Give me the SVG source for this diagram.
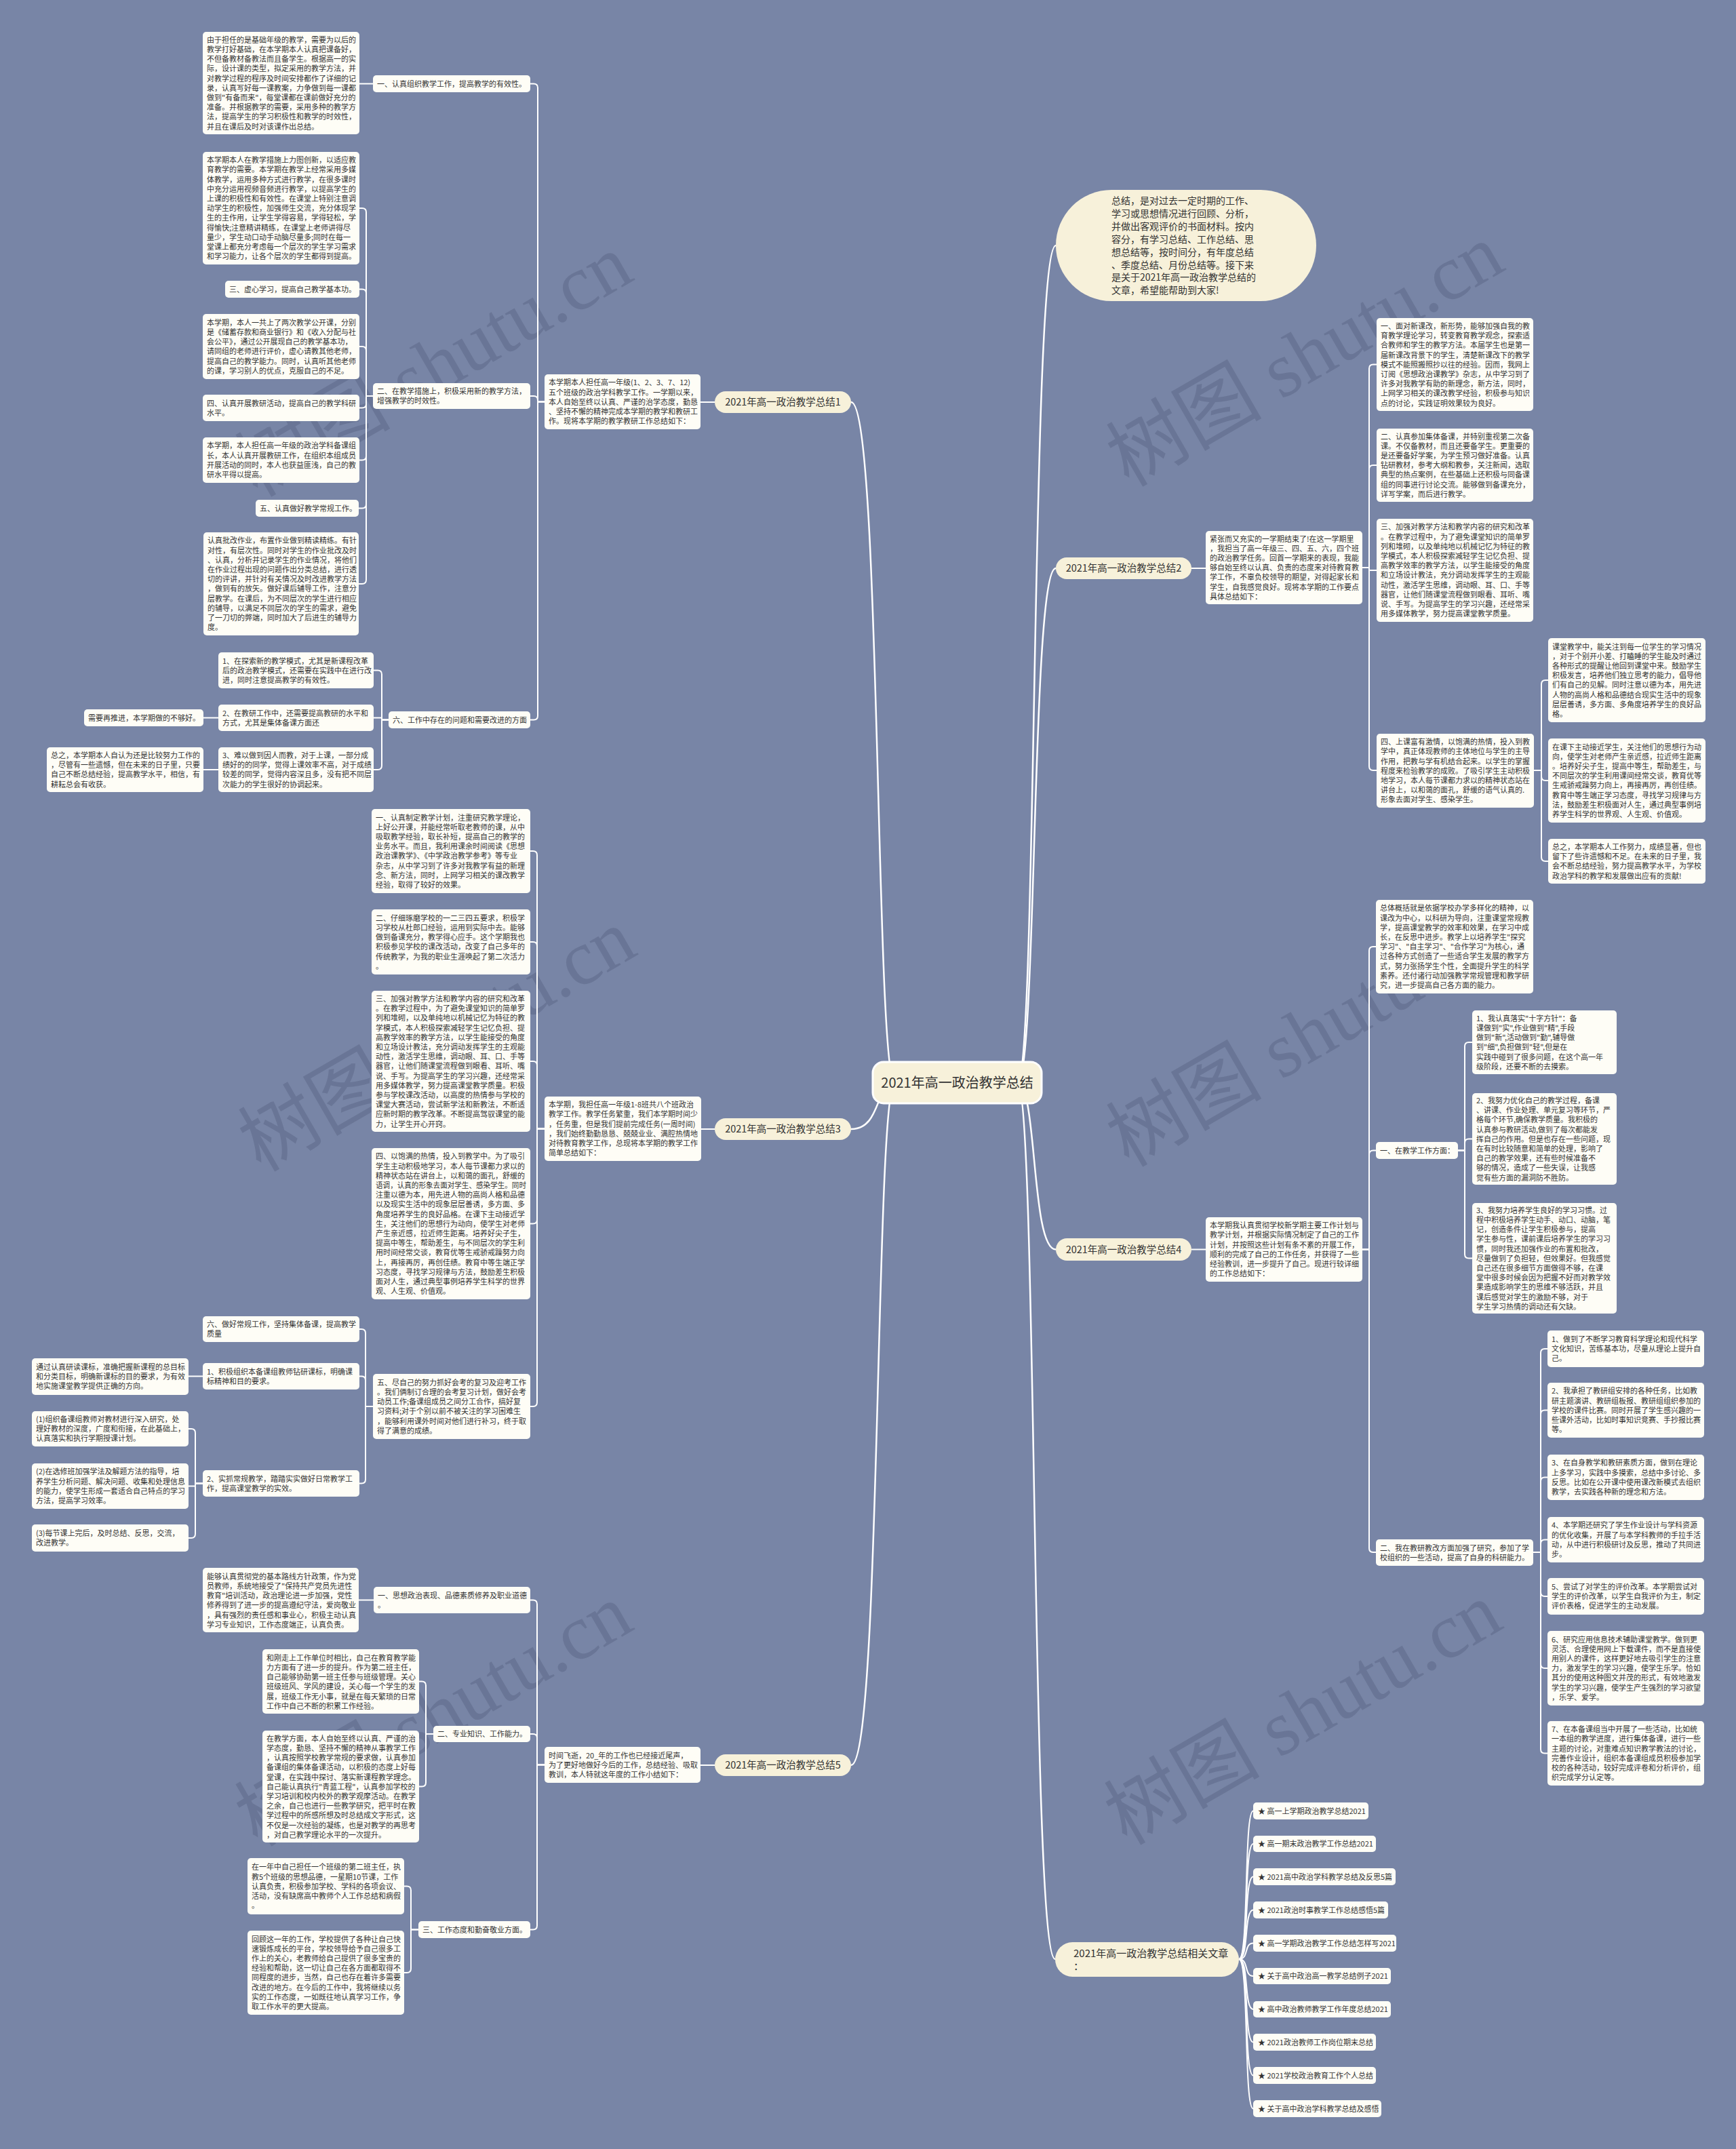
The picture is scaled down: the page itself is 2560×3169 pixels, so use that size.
<svg xmlns="http://www.w3.org/2000/svg" width="2560" height="3169" viewBox="0 0 2560 3169">
<style>
.t{font-family:'Noto Sans CJK SC','Noto Sans',sans-serif;font-size:11px;fill:#333}
.box{fill:#fefdf6}
.pill{fill:#f7f1da}
.pt{font-family:'Noto Sans CJK SC','Noto Sans',sans-serif;font-size:14.5px;fill:#333;text-anchor:middle}
.c{fill:none;stroke:#fff;stroke-width:2}
.cm{fill:none;stroke:#fff;stroke-width:2.5}
.wm{font-family:'Liberation Serif','Noto Sans CJK SC',serif;font-size:115px;fill:#4a5470;fill-opacity:0.3;text-anchor:middle}
</style>
<rect width="2560" height="3169" fill="#7885a6"/>
<g id="watermarks">
<text class="wm" transform="translate(640,540) rotate(-30)" y="38">树图 shutu.cn</text>
<text class="wm" transform="translate(645,1535) rotate(-30)" y="38">树图 shutu.cn</text>
<text class="wm" transform="translate(640,2530) rotate(-30)" y="38">树图 shutu.cn</text>
<text class="wm" transform="translate(1925,525) rotate(-30)" y="38">树图 shutu.cn</text>
<text class="wm" transform="translate(1925,1528) rotate(-30)" y="38">树图 shutu.cn</text>
<text class="wm" transform="translate(1922,2528) rotate(-30)" y="38">树图 shutu.cn</text>
</g>
<g id="connectors">
<path class="cm" d="M1320 1597 C1290 1597 1300 593 1255 593"/>
<path class="cm" d="M1320 1597 C1290 1597 1300 1665 1255 1665"/>
<path class="cm" d="M1320 1597 C1290 1597 1300 2603 1255 2603"/>
<path class="cm" d="M1500 1597 C1530 1597 1520 362 1557 362"/>
<path class="cm" d="M1500 1597 C1530 1597 1520 838 1557 838"/>
<path class="cm" d="M1500 1597 C1530 1597 1520 1842.5 1557 1842.5"/>
<path class="cm" d="M1500 1597 C1530 1597 1520 2889 1556 2889"/>
<path class="c" d="M1054 593 H1033"/>
<path class="c" d="M803 592.5 H793 V129.5 Q793 123.5 787 123.5 H782"/>
<path class="c" d="M803 592.5 H793 V590 Q793 584 787 584 H782"/>
<path class="c" d="M803 592.5 H793 V1055.5 Q793 1061.5 787 1061.5 H782"/>
<path class="c" d="M550 123.5 H530"/>
<path class="c" d="M550 584 H540 V313 Q540 307 534 307 H530"/>
<path class="c" d="M550 584 H540 V432.5 Q540 426.5 534 426.5 H530"/>
<path class="c" d="M550 584 H540 V517 Q540 511 534 511 H530"/>
<path class="c" d="M550 584 H540 V595.5 Q540 601.5 534 601.5 H530"/>
<path class="c" d="M550 584 H540 V672.5 Q540 678.5 534 678.5 H530"/>
<path class="c" d="M550 584 H540 V743.5 Q540 749.5 534 749.5 H529"/>
<path class="c" d="M550 584 H540 V855 Q540 861 534 861 H529"/>
<path class="c" d="M573 1061.5 H563 V994.5 Q563 988.5 557 988.5 H551"/>
<path class="c" d="M573 1061.5 H563 V1058.5 H551"/>
<path class="c" d="M573 1061.5 H563 V1129 Q563 1135 557 1135 H551"/>
<path class="c" d="M322 1058.5 H300"/>
<path class="c" d="M322 1135 H300"/>
<path class="c" d="M1054 1665 H1034"/>
<path class="c" d="M803 1664.5 H792 V1261 Q792 1255 786 1255 H782"/>
<path class="c" d="M803 1664.5 H792 V1395 Q792 1389 786 1389 H782"/>
<path class="c" d="M803 1664.5 H792 V1571 Q792 1565 786 1565 H782"/>
<path class="c" d="M803 1664.5 H792 V1798.5 Q792 1804.5 786 1804.5 H782"/>
<path class="c" d="M803 1664.5 H792 V2068 Q792 2074 786 2074 H782"/>
<path class="c" d="M550 2074 H539 V1966 Q539 1960 533 1960 H530"/>
<path class="c" d="M550 2074 H539 V2035.5 Q539 2029.5 533 2029.5 H530"/>
<path class="c" d="M550 2074 H539 V2181.5 Q539 2187.5 533 2187.5 H530"/>
<path class="c" d="M299 2029.5 H278"/>
<path class="c" d="M299 2187.5 H288 V2113 Q288 2107 282 2107 H278"/>
<path class="c" d="M299 2187.5 H288 V2191.5 H278"/>
<path class="c" d="M299 2187.5 H288 V2262 Q288 2268 282 2268 H278"/>
<path class="c" d="M1054 2603 H1033"/>
<path class="c" d="M803 2602.5 H792 V2365.5 Q792 2359.5 786 2359.5 H782"/>
<path class="c" d="M803 2602.5 H792 V2563 Q792 2557 786 2557 H782"/>
<path class="c" d="M803 2602.5 H792 V2839.5 Q792 2845.5 786 2845.5 H782"/>
<path class="c" d="M551 2359.5 H529"/>
<path class="c" d="M639 2557 H628 V2485.5 Q628 2479.5 622 2479.5 H618"/>
<path class="c" d="M639 2557 H628 V2628.5 Q628 2634.5 622 2634.5 H618"/>
<path class="c" d="M617 2845.5 H606 V2787.5 Q606 2781.5 600 2781.5 H596"/>
<path class="c" d="M617 2845.5 H606 V2903 Q606 2909 600 2909 H596"/>
<path class="c" d="M1757 838 H1778"/>
<path class="c" d="M2009 837 H2019 V543.5 Q2019 537.5 2025 537.5 H2030"/>
<path class="c" d="M2009 837 H2019 V692 Q2019 686 2025 686 H2030"/>
<path class="c" d="M2009 837 H2019 V841 H2030"/>
<path class="c" d="M2009 837 H2019 V1130 Q2019 1136 2025 1136 H2030"/>
<path class="c" d="M2262 1136 H2273 V1009 Q2273 1003 2279 1003 H2283"/>
<path class="c" d="M2262 1136 H2273 V1145 Q2273 1151 2279 1151 H2283"/>
<path class="c" d="M2262 1136 H2273 V1264 Q2273 1270 2279 1270 H2283"/>
<path class="c" d="M1757 1842.5 H1778"/>
<path class="c" d="M2009 1842.5 H2019 V1402 Q2019 1396 2025 1396 H2029"/>
<path class="c" d="M2009 1842.5 H2019 V1702.5 Q2019 1696.5 2025 1696.5 H2029"/>
<path class="c" d="M2009 1842.5 H2019 V2283 Q2019 2289 2025 2289 H2029"/>
<path class="c" d="M2150 1696.5 H2160 V1543 Q2160 1537 2166 1537 H2171"/>
<path class="c" d="M2150 1696.5 H2160 V1685.5 Q2160 1679.5 2166 1679.5 H2171"/>
<path class="c" d="M2150 1696.5 H2160 V1849.5 Q2160 1855.5 2166 1855.5 H2171"/>
<path class="c" d="M2261 2289 H2272 V1995 Q2272 1989 2278 1989 H2282"/>
<path class="c" d="M2261 2289 H2272 V2085.5 Q2272 2079.5 2278 2079.5 H2282"/>
<path class="c" d="M2261 2289 H2272 V2184.5 Q2272 2178.5 2278 2178.5 H2282"/>
<path class="c" d="M2261 2289 H2272 V2276.5 Q2272 2270.5 2278 2270.5 H2282"/>
<path class="c" d="M2261 2289 H2272 V2348 Q2272 2354 2278 2354 H2282"/>
<path class="c" d="M2261 2289 H2272 V2454 Q2272 2460 2278 2460 H2282"/>
<path class="c" d="M2261 2289 H2272 V2579.5 Q2272 2585.5 2278 2585.5 H2282"/>
<path class="c" d="M1827 2889 C1842 2889 1834 2670.5 1848 2670.5"/>
<path class="c" d="M1827 2889 C1842 2889 1834 2719 1848 2719"/>
<path class="c" d="M1827 2889 C1842 2889 1834 2767.5 1848 2767.5"/>
<path class="c" d="M1827 2889 C1842 2889 1834 2816.5 1848 2816.5"/>
<path class="c" d="M1827 2889 C1842 2889 1834 2865.5 1848 2865.5"/>
<path class="c" d="M1827 2889 C1842 2889 1834 2914 1848 2914"/>
<path class="c" d="M1827 2889 C1842 2889 1834 2963 1848 2963"/>
<path class="c" d="M1827 2889 C1842 2889 1834 3011.5 1848 3011.5"/>
<path class="c" d="M1827 2889 C1842 2889 1834 3060.5 1848 3060.5"/>
<path class="c" d="M1827 2889 C1842 2889 1834 3109.5 1848 3109.5"/>
</g>

<g id="root"><rect x="1287" y="1566" width="249" height="61" rx="16" fill="#f7f1da" stroke="#fff" stroke-width="3"/><text x="1411.5" y="1604" style="font-family:'Noto Sans CJK SC',sans-serif;font-size:20px;fill:#333;text-anchor:middle">2021年高一政治教学总结</text></g>

<g id="intro"><rect class="pill" x="1557" y="280" width="384" height="164" rx="82"/><text x="1639" y="301" style="font-family:'Noto Sans CJK SC',sans-serif;font-size:14px;fill:#333"><tspan x="1639">总结，是对过去一定时期的工作、</tspan><tspan x="1639" dy="18.9">学习或思想情况进行回顾、分析，</tspan><tspan x="1639" dy="18.9">并做出客观评价的书面材料。按内</tspan><tspan x="1639" dy="18.9">容分，有学习总结、工作总结、思</tspan><tspan x="1639" dy="18.9">想总结等，按时间分，有年度总结</tspan><tspan x="1639" dy="18.9">、季度总结、月份总结等。接下来</tspan><tspan x="1639" dy="18.9">是关于2021年高一政治教学总结的</tspan><tspan x="1639" dy="18.9">文章，希望能帮助到大家!</tspan></text></g>

<!-- Branch 1 -->
<g id="b1"><rect class="pill" x="1054" y="577" width="201" height="32" rx="16"/><text class="pt" x="1154.5" y="598">2021年高一政治教学总结1</text></g>
<g id="b1-text"><rect class="box" x="803" y="552" width="230" height="81" rx="5"/><text class="t" x="809" y="568.3"><tspan x="809">本学期本人担任高一年级(1、2、3、7、12)</tspan><tspan x="809" dy="14.2">五个班级的政治学科教学工作。一学期以来，</tspan><tspan x="809" dy="14.2">本人自始至终以认真、严谨的治学态度，勤恳</tspan><tspan x="809" dy="14.2">、坚持不懈的精神完成本学期的教学和教研工</tspan><tspan x="809" dy="14.2">作。现将本学期的教学教研工作总结如下：</tspan></text></g>
<g id="b1-n1"><rect class="box" x="550" y="111" width="232" height="25" rx="5"/><text class="t" x="556" y="127.7">一、认真组织教学工作，提高教学的有效性。</text></g>
<g id="b1-n2"><rect class="box" x="550" y="565" width="232" height="38" rx="5"/><text class="t" x="556" y="581.1"><tspan x="556">二、在教学措施上，积极采用新的教学方法，</tspan><tspan x="556" dy="14.2">增强教学的时效性。</tspan></text></g>
<g id="b1-n6"><rect class="box" x="573" y="1049" width="209" height="25" rx="5"/><text class="t" x="579" y="1065.7">六、工作中存在的问题和需要改进的方面</text></g>
<g id="b1-a1"><rect class="box" x="299" y="47" width="231" height="151" rx="5"/><text class="t" x="305" y="62.8"><tspan x="305">由于担任的是基础年级的教学，需要为以后的</tspan><tspan x="305" dy="14.2">教学打好基础，在本学期本人认真把课备好，</tspan><tspan x="305" dy="14.2">不但备教材备教法而且备学生。根据高一的实</tspan><tspan x="305" dy="14.2">际，设计课的类型，拟定采用的教学方法，并</tspan><tspan x="305" dy="14.2">对教学过程的程序及时间安排都作了详细的记</tspan><tspan x="305" dy="14.2">录，认真写好每一课教案，力争做到每一课都</tspan><tspan x="305" dy="14.2">做到"有备而来"，每堂课都在课前做好充分的</tspan><tspan x="305" dy="14.2">准备。并根据教学的需要，采用多种的教学方</tspan><tspan x="305" dy="14.2">法，提高学生的学习积极性和教学的时效性，</tspan><tspan x="305" dy="14.2">并且在课后及时对该课作出总结。</tspan></text></g>
<g id="b1-a2"><rect class="box" x="299" y="224" width="231" height="166" rx="5"/><text class="t" x="305" y="240.2"><tspan x="305">本学期本人在教学措施上力图创新，以适应教</tspan><tspan x="305" dy="14.2">育教学的需要。本学期在教学上经常采用多媒</tspan><tspan x="305" dy="14.2">体教学，运用多种方式进行教学，在很多课时</tspan><tspan x="305" dy="14.2">中充分运用视频音频进行教学，以提高学生的</tspan><tspan x="305" dy="14.2">上课的积极性和有效性。在课堂上特别注意调</tspan><tspan x="305" dy="14.2">动学生的积极性，加强师生交流，充分体现学</tspan><tspan x="305" dy="14.2">生的主作用，让学生学得容易，学得轻松，学</tspan><tspan x="305" dy="14.2">得愉快;注意精讲精练，在课堂上老师讲得尽</tspan><tspan x="305" dy="14.2">量少，学生动口动手动脑尽量多;同时在每一</tspan><tspan x="305" dy="14.2">堂课上都充分考虑每一个层次的学生学习需求</tspan><tspan x="305" dy="14.2">和学习能力，让各个层次的学生都得到提高。</tspan></text></g>
<g id="b1-a3"><rect class="box" x="332" y="414" width="198" height="25" rx="5"/><text class="t" x="338" y="430.7">三、虚心学习，提高自己教学基本功。</text></g>
<g id="b1-a4"><rect class="box" x="299" y="463" width="231" height="96" rx="5"/><text class="t" x="305" y="479.7"><tspan x="305">本学期，本人一共上了两次教学公开课，分别</tspan><tspan x="305" dy="14.2">是《储蓄存款和商业银行》和《收入分配与社</tspan><tspan x="305" dy="14.2">会公平》，通过公开展现自己的教学基本功，</tspan><tspan x="305" dy="14.2">请同组的老师进行评价，虚心请教其他老师，</tspan><tspan x="305" dy="14.2">提高自己的教学能力。同时，认真听其他老师</tspan><tspan x="305" dy="14.2">的课，学习别人的优点，克服自己的不足。</tspan></text></g>
<g id="b1-a5"><rect class="box" x="299" y="582" width="231" height="39" rx="5"/><text class="t" x="305" y="598.6"><tspan x="305">四、认真开展教研活动，提高自己的教学科研</tspan><tspan x="305" dy="14.2">水平。</tspan></text></g>
<g id="b1-a6"><rect class="box" x="299" y="645" width="231" height="67" rx="5"/><text class="t" x="305" y="661.4"><tspan x="305">本学期，本人担任高一年级的政治学科备课组</tspan><tspan x="305" dy="14.2">长，本人认真开展教研工作，在组织本组成员</tspan><tspan x="305" dy="14.2">开展活动的同时，本人也获益匪浅，自己的教</tspan><tspan x="305" dy="14.2">研水平得以提高。</tspan></text></g>
<g id="b1-a7"><rect class="box" x="377" y="737" width="152" height="25" rx="5"/><text class="t" x="383" y="753.7">五、认真做好教学常规工作。</text></g>
<g id="b1-a8"><rect class="box" x="300" y="785" width="229" height="152" rx="5"/><text class="t" x="306" y="801.3"><tspan x="306">认真批改作业，布置作业做到精读精练。有针</tspan><tspan x="306" dy="14.2">对性，有层次性。同时对学生的作业批改及时</tspan><tspan x="306" dy="14.2">、认真，分析并记录学生的作业情况，将他们</tspan><tspan x="306" dy="14.2">在作业过程出现的问题作出分类总结，进行透</tspan><tspan x="306" dy="14.2">切的评讲，并针对有关情况及时改进教学方法</tspan><tspan x="306" dy="14.2">，做到有的放矢。做好课后辅导工作，注意分</tspan><tspan x="306" dy="14.2">层教学。在课后，为不同层次的学生进行相应</tspan><tspan x="306" dy="14.2">的辅导，以满足不同层次的学生的需求，避免</tspan><tspan x="306" dy="14.2">了一刀切的弊端，同时加大了后进生的辅导力</tspan><tspan x="306" dy="14.2">度。</tspan></text></g>
<g id="b1-a9"><rect class="box" x="322" y="962" width="229" height="53" rx="5"/><text class="t" x="328" y="978.5"><tspan x="328">1、在探索新的教学模式，尤其是新课程改革</tspan><tspan x="328" dy="14.2">后的政治教学模式，还需要在实践中在进行改</tspan><tspan x="328" dy="14.2">进，同时注意提高教学的有效性。</tspan></text></g>
<g id="b1-a10"><rect class="box" x="322" y="1039" width="229" height="39" rx="5"/><text class="t" x="328" y="1055.6"><tspan x="328">2、在教研工作中，还需要提高教研的水平和</tspan><tspan x="328" dy="14.2">方式，尤其是集体备课方面还</tspan></text></g>
<g id="b1-a11"><rect class="box" x="322" y="1102" width="229" height="66" rx="5"/><text class="t" x="328" y="1117.9"><tspan x="328">3、难以做到因人而教，对于上课，一部分成</tspan><tspan x="328" dy="14.2">绩好的的同学，觉得上课效率不高，对于成绩</tspan><tspan x="328" dy="14.2">较差的同学，觉得内容深且多，没有把不同层</tspan><tspan x="328" dy="14.2">次能力的学生很好的协调起来。</tspan></text></g>
<g id="b1-a12"><rect class="box" x="124" y="1046" width="176" height="25" rx="5"/><text class="t" x="130" y="1062.7">需要再推进，本学期做的不够好。</text></g>
<g id="b1-a13"><rect class="box" x="69" y="1102" width="231" height="66" rx="5"/><text class="t" x="75" y="1117.9"><tspan x="75">总之，本学期本人自认为还是比较努力工作的</tspan><tspan x="75" dy="14.2">，尽管有一些遗憾，但在未来的日子里，只要</tspan><tspan x="75" dy="14.2">自己不断总结经验，提高教学水平，相信，有</tspan><tspan x="75" dy="14.2">耕耘总会有收获。</tspan></text></g>

<!-- Branch 3 -->
<g id="b3"><rect class="pill" x="1054" y="1649" width="201" height="32" rx="16"/><text class="pt" x="1154.5" y="1670">2021年高一政治教学总结3</text></g>
<g id="b3-text"><rect class="box" x="803" y="1617" width="231" height="95" rx="5"/><text class="t" x="809" y="1633.2"><tspan x="809">本学期，我担任高一年级1-8班共八个班政治</tspan><tspan x="809" dy="14.2">教学工作。教学任务繁重，我们本学期时间少</tspan><tspan x="809" dy="14.2">，任务重，但是我们提前完成任务(一周时间)</tspan><tspan x="809" dy="14.2">，我们始终勤勤恳恳、兢兢业业、满腔热情地</tspan><tspan x="809" dy="14.2">对待教育教学工作，总现将本学期的教学工作</tspan><tspan x="809" dy="14.2">简单总结如下：</tspan></text></g>
<g id="b3-b1"><rect class="box" x="548" y="1193" width="234" height="124" rx="5"/><text class="t" x="554" y="1209.5"><tspan x="554">一、认真制定教学计划，注重研究教学理论，</tspan><tspan x="554" dy="14.2">上好公开课，并能经常听取老教师的课，从中</tspan><tspan x="554" dy="14.2">吸取教学经验，取长补短，提高自己的教学的</tspan><tspan x="554" dy="14.2">业务水平。而且，我利用课余时间阅读《思想</tspan><tspan x="554" dy="14.2">政治课教学》、《中学政治教学参考》等专业</tspan><tspan x="554" dy="14.2">杂志，从中学习到了许多对我教学有益的新理</tspan><tspan x="554" dy="14.2">念、新方法，同时，上网学习相关的课改教学</tspan><tspan x="554" dy="14.2">经验，取得了较好的效果。</tspan></text></g>
<g id="b3-b2"><rect class="box" x="548" y="1341" width="234" height="96" rx="5"/><text class="t" x="554" y="1357.7"><tspan x="554">二、仔细琢磨学校的一二三四五要求，积极学</tspan><tspan x="554" dy="14.2">习学校从杜郎口经验，运用到实际中去。能够</tspan><tspan x="554" dy="14.2">做到备课充分，教学得心应手。这个学期我也</tspan><tspan x="554" dy="14.2">积极参见学校的课改活动，改变了自己多年的</tspan><tspan x="554" dy="14.2">传统教学，为我的职业生涯唤起了第二次活力</tspan><tspan x="554" dy="14.2">。</tspan></text></g>
<g id="b3-b3"><rect class="box" x="548" y="1461" width="234" height="208" rx="5"/><text class="t" x="554" y="1476.9"><tspan x="554">三、加强对教学方法和教学内容的研究和改革</tspan><tspan x="554" dy="14.2">。在教学过程中，为了避免课堂知识的简单罗</tspan><tspan x="554" dy="14.2">列和堆砌，以及单纯地以机械记忆为特征的教</tspan><tspan x="554" dy="14.2">学模式，本人积极探索减轻学生记忆负担、提</tspan><tspan x="554" dy="14.2">高教学效率的教学方法，以学生能接受的角度</tspan><tspan x="554" dy="14.2">和立场设计教法，充分调动发挥学生的主观能</tspan><tspan x="554" dy="14.2">动性，激活学生思维，调动眼、耳、口、手等</tspan><tspan x="554" dy="14.2">器官，让他们随课堂流程做到眼看、耳听、嘴</tspan><tspan x="554" dy="14.2">说、手写。为提高学生的学习兴趣，还经常采</tspan><tspan x="554" dy="14.2">用多媒体教学，努力提高课堂教学质量。积极</tspan><tspan x="554" dy="14.2">参与学校课改活动，以高度的热情参与学校的</tspan><tspan x="554" dy="14.2">课堂大赛活动，尝试新学法和新教法，不断适</tspan><tspan x="554" dy="14.2">应新时期的教学改革。不断提高驾驭课堂的能</tspan><tspan x="554" dy="14.2">力，让学生开心开窍。</tspan></text></g>
<g id="b3-b4"><rect class="box" x="548" y="1693" width="234" height="223" rx="5"/><text class="t" x="554" y="1709.3"><tspan x="554">四、以饱满的热情，投入到教学中。为了吸引</tspan><tspan x="554" dy="14.2">学生主动积极地学习，本人每节课都力求以的</tspan><tspan x="554" dy="14.2">精神状态站在讲台上，以和蔼的面孔，舒缓的</tspan><tspan x="554" dy="14.2" textLength="222" lengthAdjust="spacingAndGlyphs">语调，认真的形象去面对学生、感染学生。同时</tspan><tspan x="554" dy="14.2">注重以德为本，用先进人物的高尚人格和品德</tspan><tspan x="554" dy="14.2">以及现实生活中的现象层层善诱，多方面、多</tspan><tspan x="554" dy="14.2">角度培养学生的良好品格。在课下主动接近学</tspan><tspan x="554" dy="14.2">生，关注他们的思想行为动向，使学生对老师</tspan><tspan x="554" dy="14.2">产生亲近感，拉近师生距离。培养好尖子生，</tspan><tspan x="554" dy="14.2">提高中等生，帮助差生，与不同层次的学生利</tspan><tspan x="554" dy="14.2">用时间经常交谈，教育优等生戒骄戒躁努力向</tspan><tspan x="554" dy="14.2">上，再接再厉，再创佳绩。教育中等生端正学</tspan><tspan x="554" dy="14.2">习态度，寻找学习规律与方法，鼓励差生积极</tspan><tspan x="554" dy="14.2">面对人生，通过典型事例培养学生科学的世界</tspan><tspan x="554" dy="14.2">观、人生观、价值观。</tspan></text></g>
<g id="b3-n5"><rect class="box" x="550" y="2026" width="232" height="96" rx="5"/><text class="t" x="556" y="2042.7"><tspan x="556">五、尽自己的努力抓好会考的复习及迎考工作</tspan><tspan x="556" dy="14.2">。我们俩制订合理的会考复习计划，做好会考</tspan><tspan x="556" dy="14.2">动员工作;备课组成员之间分工合作，搞好复</tspan><tspan x="556" dy="14.2">习资料;对于个别以前不被关注的学习困难生</tspan><tspan x="556" dy="14.2">，能够利用课外时间对他们进行补习，终于取</tspan><tspan x="556" dy="14.2">得了满意的成绩。</tspan></text></g>
<g id="b3-c6"><rect class="box" x="299" y="1941" width="231" height="38" rx="5"/><text class="t" x="305" y="1957.1"><tspan x="305">六、做好常规工作，坚持集体备课，提高教学</tspan><tspan x="305" dy="14.2">质量</tspan></text></g>
<g id="b3-c7"><rect class="box" x="299" y="2010" width="231" height="39" rx="5"/><text class="t" x="305" y="2026.6"><tspan x="305">1、积极组织本备课组教师钻研课标，明确课</tspan><tspan x="305" dy="14.2">标精神和目的要求。</tspan></text></g>
<g id="b3-c8"><rect class="box" x="299" y="2168" width="231" height="39" rx="5"/><text class="t" x="305" y="2184.6"><tspan x="305">2、实抓常规教学，踏踏实实做好日常教学工</tspan><tspan x="305" dy="14.2">作，提高课堂教学的实效。</tspan></text></g>
<g id="b3-c9"><rect class="box" x="47" y="2003" width="231" height="54" rx="5"/><text class="t" x="53" y="2020"><tspan x="53">通过认真研读课标，准确把握新课程的总目标</tspan><tspan x="53" dy="14.2">和分类目标，明确新课标的目的要求，为有效</tspan><tspan x="53" dy="14.2">地实施课堂教学提供正确的方向。</tspan></text></g>
<g id="b3-c10"><rect class="box" x="47" y="2081" width="231" height="52" rx="5"/><text class="t" x="53" y="2097"><tspan x="53">(1)组织备课组教师对教材进行深入研究，处</tspan><tspan x="53" dy="14.2">理好教材的深度，广度和衔接，在此基础上，</tspan><tspan x="53" dy="14.2">认真落实和执行学期授课计划。</tspan></text></g>
<g id="b3-c11"><rect class="box" x="47" y="2158" width="231" height="67" rx="5"/><text class="t" x="53" y="2174.4"><tspan x="53">(2)在选修班加强学法及解题方法的指导，培</tspan><tspan x="53" dy="14.2">养学生分析问题、解决问题、收集和处理信息</tspan><tspan x="53" dy="14.2">的能力，使学生形成一套适合自己特点的学习</tspan><tspan x="53" dy="14.2">方法，提高学习效率。</tspan></text></g>
<g id="b3-c12"><rect class="box" x="47" y="2248" width="231" height="40" rx="5"/><text class="t" x="53" y="2265.1"><tspan x="53">(3)每节课上完后，及时总结、反思，交流，</tspan><tspan x="53" dy="14.2">改进教学。</tspan></text></g>

<!-- Branch 5 -->
<g id="b5"><rect class="pill" x="1054" y="2587" width="201" height="32" rx="16"/><text class="pt" x="1154.5" y="2608">2021年高一政治教学总结5</text></g>
<g id="b5-text"><rect class="box" x="803" y="2576" width="230" height="53" rx="5"/><text class="t" x="809" y="2592.5"><tspan x="809">时间飞逝，20_年的工作也已经接近尾声，</tspan><tspan x="809" dy="14.2">为了更好地做好今后的工作，总结经验、吸取</tspan><tspan x="809" dy="14.2">教训，本人特就这年度的工作小结如下：</tspan></text></g>
<g id="b5-n1"><rect class="box" x="551" y="2340" width="231" height="39" rx="5"/><text class="t" x="557" y="2356.6"><tspan x="557">一、思想政治表现、品德素质修养及职业道德</tspan><tspan x="557" dy="14.2">。</tspan></text></g>
<g id="b5-n2"><rect class="box" x="639" y="2545" width="143" height="24" rx="5"/><text class="t" x="645" y="2561.2">二、专业知识、工作能力。</text></g>
<g id="b5-n3"><rect class="box" x="617" y="2833" width="165" height="25" rx="5"/><text class="t" x="623" y="2849.7">三、工作态度和勤奋敬业方面。</text></g>
<g id="b5-c1"><rect class="box" x="299" y="2312" width="230" height="95" rx="5"/><text class="t" x="305" y="2328.7"><tspan x="305">能够认真贯彻党的基本路线方针政策，作为党</tspan><tspan x="305" dy="14.2">员教师，系统地接受了"保持共产党员先进性</tspan><tspan x="305" dy="14.2">教育"培训活动，政治理论进一步加强，党性</tspan><tspan x="305" dy="14.2">修养得到了进一步的提高遵纪守法，爱岗敬业</tspan><tspan x="305" dy="14.2">，具有强烈的责任感和事业心，积极主动认真</tspan><tspan x="305" dy="14.2">学习专业知识，工作态度端正，认真负责。</tspan></text></g>
<g id="b5-c2"><rect class="box" x="387" y="2432" width="231" height="95" rx="5"/><text class="t" x="393" y="2448.7"><tspan x="393">和刚走上工作单位时相比，自己在教育教学能</tspan><tspan x="393" dy="14.2">力方面有了进一步的提升。作为第二班主任，</tspan><tspan x="393" dy="14.2">自己能够协助第一班主任参与班级管理。关心</tspan><tspan x="393" dy="14.2">班级班风、学风的建设，关心每一个学生的发</tspan><tspan x="393" dy="14.2">展，班级工作无小事，就是在每天繁琐的日常</tspan><tspan x="393" dy="14.2">工作中自己不断的积累工作经验。</tspan></text></g>
<g id="b5-c3"><rect class="box" x="387" y="2552" width="231" height="165" rx="5"/><text class="t" x="393" y="2567.7"><tspan x="393">在教学方面，本人自始至终以认真、严谨的治</tspan><tspan x="393" dy="14.2">学态度，勤恳、坚持不懈的精神从事教学工作</tspan><tspan x="393" dy="14.2">，认真按照学校教学常规的要求做，认真参加</tspan><tspan x="393" dy="14.2">备课组的集体备课活动，以积极的态度上好每</tspan><tspan x="393" dy="14.2">堂课，在实践中探讨、落实新课程教学理念。</tspan><tspan x="393" dy="14.2">自己能认真执行"青蓝工程"，认真参加学校的</tspan><tspan x="393" dy="14.2">学习培训和校内校外的教学观摩活动。在教学</tspan><tspan x="393" dy="14.2">之余，自己也进行一些教学研究，把平时在教</tspan><tspan x="393" dy="14.2">学过程中的所感所想及时总结成文字形式，这</tspan><tspan x="393" dy="14.2">不仅是一次经验的凝练，也是对教学的再思考</tspan><tspan x="393" dy="14.2">，对自己教学理论水平的一次提升。</tspan></text></g>
<g id="b5-c4"><rect class="box" x="365" y="2740" width="231" height="83" rx="5"/><text class="t" x="371" y="2757.3"><tspan x="371">在一年中自己担任一个班级的第二班主任，执</tspan><tspan x="371" dy="14.2">教5个班级的思想品德，一星期10节课，工作</tspan><tspan x="371" dy="14.2">认真负责，积极参加学校、学科的各项会议、</tspan><tspan x="371" dy="14.2">活动，没有缺席高中教师个人工作总结和病假</tspan><tspan x="371" dy="14.2">。</tspan></text></g>
<g id="b5-c5"><rect class="box" x="365" y="2847" width="231" height="124" rx="5"/><text class="t" x="371" y="2863.5"><tspan x="371">回顾这一年的工作，学校提供了各种让自己快</tspan><tspan x="371" dy="14.2">速锻炼成长的平台，学校领导给予自己很多工</tspan><tspan x="371" dy="14.2">作上的关心，老教师给自己提供了很多宝贵的</tspan><tspan x="371" dy="14.2">经验和帮助，这一切让自己在各方面都取得不</tspan><tspan x="371" dy="14.2">同程度的进步，当然，自己也存在着许多需要</tspan><tspan x="371" dy="14.2">改进的地方。在今后的工作中，我将继续以务</tspan><tspan x="371" dy="14.2">实的工作态度，一如既往地认真学习工作，争</tspan><tspan x="371" dy="14.2">取工作水平的更大提高。</tspan></text></g>

<!-- Branch 2 -->
<g id="b2"><rect class="pill" x="1557" y="822" width="200" height="32" rx="16"/><text class="pt" x="1657" y="843">2021年高一政治教学总结2</text></g>
<g id="b2-text"><rect class="box" x="1778" y="783" width="231" height="108" rx="5"/><text class="t" x="1784" y="798.6"><tspan x="1784">紧张而又充实的一学期结束了!在这一学期里</tspan><tspan x="1784" dy="14.2">，我担当了高一年级三、四、五、六，四个班</tspan><tspan x="1784" dy="14.2">的政治教学任务。回首一学期来的表现，我能</tspan><tspan x="1784" dy="14.2">够自始至终以认真、负责的态度来对待教育教</tspan><tspan x="1784" dy="14.2">学工作，不辜负校领导的期望，对得起家长和</tspan><tspan x="1784" dy="14.2">学生，自我感觉良好。现将本学期的工作要点</tspan><tspan x="1784" dy="14.2">具体总结如下：</tspan></text></g>
<g id="b2-d1"><rect class="box" x="2030" y="469" width="231" height="137" rx="5"/><text class="t" x="2036" y="484.9"><tspan x="2036">一、面对新课改，新形势，能够加强自我的教</tspan><tspan x="2036" dy="14.2">育教学理论学习，转变教育教学观念，探索适</tspan><tspan x="2036" dy="14.2">合教师和学生的教学方法。本届学生也是第一</tspan><tspan x="2036" dy="14.2">届新课改背景下的学生，清楚新课改下的教学</tspan><tspan x="2036" dy="14.2">模式不能照搬照抄以往的经验。因而，我网上</tspan><tspan x="2036" dy="14.2">订阅《思想政治课教学》杂志，从中学习到了</tspan><tspan x="2036" dy="14.2">许多对我教学有助的新理念，新方法，同时，</tspan><tspan x="2036" dy="14.2">上网学习相关的课改教学经验，积极参与知识</tspan><tspan x="2036" dy="14.2">点的讨论，实践证明效果较为良好。</tspan></text></g>
<g id="b2-d2"><rect class="box" x="2030" y="632" width="231" height="108" rx="5"/><text class="t" x="2036" y="647.6"><tspan x="2036">二、认真参加集体备课，并特别重视第二次备</tspan><tspan x="2036" dy="14.2">课。不仅备教材，而且还要备学生。更重要的</tspan><tspan x="2036" dy="14.2">是还要备好学案，为学生预习做好准备。认真</tspan><tspan x="2036" dy="14.2">钻研教材，参考大纲和教参，关注新闻，选取</tspan><tspan x="2036" dy="14.2">典型的热点案例，在些基础上还积极与同备课</tspan><tspan x="2036" dy="14.2">组的同事进行讨论交流。能够做到备课充分，</tspan><tspan x="2036" dy="14.2">详写学案，而后进行教学。</tspan></text></g>
<g id="b2-d3"><rect class="box" x="2030" y="765" width="231" height="152" rx="5"/><text class="t" x="2036" y="781.3"><tspan x="2036">三、加强对教学方法和教学内容的研究和改革</tspan><tspan x="2036" dy="14.2">。在教学过程中，为了避免课堂知识的简单罗</tspan><tspan x="2036" dy="14.2">列和堆砌，以及单纯地以机械记忆为特征的教</tspan><tspan x="2036" dy="14.2">学模式，本人积极探索减轻学生记忆负担、提</tspan><tspan x="2036" dy="14.2">高教学效率的教学方法，以学生能接受的角度</tspan><tspan x="2036" dy="14.2">和立场设计教法，充分调动发挥学生的主观能</tspan><tspan x="2036" dy="14.2">动性，激活学生思维，调动眼、耳、口、手等</tspan><tspan x="2036" dy="14.2">器官，让他们随课堂流程做到眼看、耳听、嘴</tspan><tspan x="2036" dy="14.2">说、手写。为提高学生的学习兴趣，还经常采</tspan><tspan x="2036" dy="14.2">用多媒体教学，努力提高课堂教学质量。</tspan></text></g>
<g id="b2-d4"><rect class="box" x="2030" y="1082" width="232" height="109" rx="5"/><text class="t" x="2036" y="1098.1"><tspan x="2036">四、上课富有激情，以饱满的热情，投入到教</tspan><tspan x="2036" dy="14.2">学中，真正体现教师的主体地位与学生的主导</tspan><tspan x="2036" dy="14.2">作用，把教与学有机结合起来。以学生的掌握</tspan><tspan x="2036" dy="14.2">程度来检验教学的成败。了吸引学生主动积极</tspan><tspan x="2036" dy="14.2">地学习，本人每节课都力求以的精神状态站在</tspan><tspan x="2036" dy="14.2">讲台上，以和蔼的面孔，舒缓的语气认真的.</tspan><tspan x="2036" dy="14.2">形象去面对学生、感染学生。</tspan></text></g>
<g id="b2-e1"><rect class="box" x="2283" y="941" width="232" height="124" rx="5"/><text class="t" x="2289" y="957.5"><tspan x="2289">课堂教学中，能关注到每一位学生的学习情况</tspan><tspan x="2289" dy="14.2">，对于个别开小差、打瞌睡的学生能及时通过</tspan><tspan x="2289" dy="14.2">各种形式的提醒让他回到课堂中来。鼓励学生</tspan><tspan x="2289" dy="14.2">积极发言，培养他们独立思考的能力，倡导他</tspan><tspan x="2289" dy="14.2">们有自己的见解。同时注意以德为本，用先进</tspan><tspan x="2289" dy="14.2">人物的高尚人格和品德结合现实生活中的现象</tspan><tspan x="2289" dy="14.2">层层善诱，多方面、多角度培养学生的良好品</tspan><tspan x="2289" dy="14.2">格。</tspan></text></g>
<g id="b2-e2"><rect class="box" x="2283" y="1089" width="232" height="124" rx="5"/><text class="t" x="2289" y="1105.5"><tspan x="2289">在课下主动接近学生，关注他们的思想行为动</tspan><tspan x="2289" dy="14.2">向，使学生对老师产生亲近感，拉近师生距离</tspan><tspan x="2289" dy="14.2">。培养好尖子生，提高中等生，帮助差生，与</tspan><tspan x="2289" dy="14.2">不同层次的学生利用课间经常交谈，教育优等</tspan><tspan x="2289" dy="14.2">生戒骄戒躁努力向上，再接再厉，再创佳绩。</tspan><tspan x="2289" dy="14.2">教育中等生端正学习态度，寻找学习规律与方</tspan><tspan x="2289" dy="14.2">法，鼓励差生积极面对人生，通过典型事例培</tspan><tspan x="2289" dy="14.2">养学生科学的世界观、人生观、价值观。</tspan></text></g>
<g id="b2-e3"><rect class="box" x="2283" y="1237" width="232" height="66" rx="5"/><text class="t" x="2289" y="1252.9"><tspan x="2289">总之，本学期本人工作努力，成绩显著，但也</tspan><tspan x="2289" dy="14.2">留下了些许遗憾和不足。在未来的日子里，我</tspan><tspan x="2289" dy="14.2">会不断总结经验，努力提高教学水平，为学校</tspan><tspan x="2289" dy="14.2">政治学科的教学和发展做出应有的贡献!</tspan></text></g>

<!-- Branch 4 -->
<g id="b4"><rect class="pill" x="1557" y="1826" width="200" height="33" rx="16.5"/><text class="pt" x="1657" y="1847.7">2021年高一政治教学总结4</text></g>
<g id="b4-text"><rect class="box" x="1778" y="1795" width="231" height="95" rx="5"/><text class="t" x="1784" y="1811.2"><tspan x="1784">本学期我认真贯彻学校新学期主要工作计划与</tspan><tspan x="1784" dy="14.2">教学计划，并根据实际情况制定了自己的工作</tspan><tspan x="1784" dy="14.2">计划，并按照这些计划有条不紊的开展工作，</tspan><tspan x="1784" dy="14.2">顺利的完成了自己的工作任务，并获得了一些</tspan><tspan x="1784" dy="14.2">经验教训，进一步提升了自己。现进行较详细</tspan><tspan x="1784" dy="14.2">的工作总结如下：</tspan></text></g>
<g id="b4-g0"><rect class="box" x="2029" y="1327" width="232" height="138" rx="5"/><text class="t" x="2035" y="1343.4"><tspan x="2035">总体概括就是依据学校办学多样化的精神，以</tspan><tspan x="2035" dy="14.2">课改为中心，以科研为导向，注重课堂常规教</tspan><tspan x="2035" dy="14.2">学，提高课堂教学的效率和效果，在学习中成</tspan><tspan x="2035" dy="14.2">长，在反思中进步。教学上以培养学生"探究</tspan><tspan x="2035" dy="14.2">学习"、"自主学习"、"合作学习"为核心，通</tspan><tspan x="2035" dy="14.2">过各种方式创造了一些适合学生发展的教学方</tspan><tspan x="2035" dy="14.2">式，努力张扬学生个性，全面提升学生的科学</tspan><tspan x="2035" dy="14.2">素养。还付诸行动加强教学常规管理和教学研</tspan><tspan x="2035" dy="14.2">究，进一步提高自己各方面的能力。</tspan></text></g>
<g id="b4-n1"><rect class="box" x="2029" y="1684" width="121" height="25" rx="5"/><text class="t" x="2035" y="1700.7">一、在教学工作方面：</text></g>
<g id="b4-n2"><rect class="box" x="2029" y="2270" width="232" height="39" rx="5"/><text class="t" x="2035" y="2286.6"><tspan x="2035">二、我在教研教改方面加强了研究，参加了学</tspan><tspan x="2035" dy="14.2">校组织的一些活动，提高了自身的科研能力。</tspan></text></g>
<g id="b4-f1"><rect class="box" x="2171" y="1490" width="213" height="94" rx="5"/><text class="t" x="2177" y="1505.7"><tspan x="2177">1、我认真落实"十字方针"：备</tspan><tspan x="2177" dy="14.2">课做到"实",作业做到"精",手段</tspan><tspan x="2177" dy="14.2">做到"新",活动做到"勤",辅导做</tspan><tspan x="2177" dy="14.2">到"细",负担做到"轻",但是在</tspan><tspan x="2177" dy="14.2">实践中碰到了很多问题，在这个高一年</tspan><tspan x="2177" dy="14.2">级阶段，还要不断的去摸索。</tspan></text></g>
<g id="b4-f2"><rect class="box" x="2171" y="1612" width="213" height="135" rx="5"/><text class="t" x="2177" y="1626.9"><tspan x="2177">2、我努力优化自己的教学过程，备课</tspan><tspan x="2177" dy="14.2">、讲课、作业处理、单元复习等环节，严</tspan><tspan x="2177" dy="14.2">格每个环节,确保教学质量。我积极的</tspan><tspan x="2177" dy="14.2">认真参与教研活动,做到了每次都能发</tspan><tspan x="2177" dy="14.2">挥自己的作用。但是也存在一些问题，现</tspan><tspan x="2177" dy="14.2">在有时比较随意和简单的处理，影响了</tspan><tspan x="2177" dy="14.2">自己的教学效果，还有些时候准备不</tspan><tspan x="2177" dy="14.2">够的情况，造成了一些失误，让我感</tspan><tspan x="2177" dy="14.2">觉有些方面的漏洞防不胜防。</tspan></text></g>
<g id="b4-f3"><rect class="box" x="2171" y="1774" width="213" height="163" rx="5"/><text class="t" x="2177" y="1788.7"><tspan x="2177">3、我努力培养学生良好的学习习惯。过</tspan><tspan x="2177" dy="14.2">程中积极培养学生动手、动口、动脑，笔</tspan><tspan x="2177" dy="14.2">记，创造条件让学生积极参与，提高</tspan><tspan x="2177" dy="14.2">学生参与性，课前课后培养学生的学习习</tspan><tspan x="2177" dy="14.2">惯，同时我还加强作业的布置和批改，</tspan><tspan x="2177" dy="14.2">尽量做到了负担轻，但效果好。但我感觉</tspan><tspan x="2177" dy="14.2">自己还在很多细节方面做得不够，在课</tspan><tspan x="2177" dy="14.2">堂中很多时候会因为把握不好而对教学效</tspan><tspan x="2177" dy="14.2">果造成影响学生的思维不够活跃，并且</tspan><tspan x="2177" dy="14.2">课后感觉对学生的激励不够，对于</tspan><tspan x="2177" dy="14.2">学生学习热情的调动还有欠缺。</tspan></text></g>
<g id="b4-h1"><rect class="box" x="2282" y="1962" width="231" height="54" rx="5"/><text class="t" x="2288" y="1979"><tspan x="2288">1、做到了不断学习教育科学理论和现代科学</tspan><tspan x="2288" dy="14.2">文化知识，苦练基本功，尽量从理论上提升自</tspan><tspan x="2288" dy="14.2">己。</tspan></text></g>
<g id="b4-h2"><rect class="box" x="2282" y="2039" width="231" height="81" rx="5"/><text class="t" x="2288" y="2055.3"><tspan x="2288">2、我承担了教研组安排的各种任务，比如教</tspan><tspan x="2288" dy="14.2">研主题演讲、教研组板报、教研组组织参加的</tspan><tspan x="2288" dy="14.2">学校的课件比赛。同时开展了学生感兴趣的一</tspan><tspan x="2288" dy="14.2">些课外活动，比如时事知识竞赛、手抄报比赛</tspan><tspan x="2288" dy="14.2">等。</tspan></text></g>
<g id="b4-h3"><rect class="box" x="2282" y="2145" width="231" height="67" rx="5"/><text class="t" x="2288" y="2161.4"><tspan x="2288">3、在自身教学和教研素质方面，做到在理论</tspan><tspan x="2288" dy="14.2">上多学习，实践中多摸索，总结中多讨论、多</tspan><tspan x="2288" dy="14.2">反思。比如在公开课中使用课改新模式去组织</tspan><tspan x="2288" dy="14.2">教学，去实践各种新的理念和方法。</tspan></text></g>
<g id="b4-h4"><rect class="box" x="2282" y="2237" width="231" height="67" rx="5"/><text class="t" x="2288" y="2253.4"><tspan x="2288">4、本学期还研究了学生作业设计与学科资源</tspan><tspan x="2288" dy="14.2">的优化收集，开展了与本学科教师的手拉手活</tspan><tspan x="2288" dy="14.2">动，从中进行积极研讨及反思，推动了共同进</tspan><tspan x="2288" dy="14.2">步。</tspan></text></g>
<g id="b4-h5"><rect class="box" x="2282" y="2327" width="231" height="54" rx="5"/><text class="t" x="2288" y="2344"><tspan x="2288">5、尝试了对学生的评价改革。本学期尝试对</tspan><tspan x="2288" dy="14.2">学生的评价改革，以学生自我评价为主，制定</tspan><tspan x="2288" dy="14.2">评价表格，促进学生的主动发展。</tspan></text></g>
<g id="b4-h6"><rect class="box" x="2282" y="2405" width="231" height="110" rx="5"/><text class="t" x="2288" y="2421.6"><tspan x="2288">6、研究应用信息技术辅助课堂教学。做到更</tspan><tspan x="2288" dy="14.2">灵活、合理使用网上下载课件，而不是直接使</tspan><tspan x="2288" dy="14.2">用别人的课件，这样更好地去吸引学生的注意</tspan><tspan x="2288" dy="14.2">力，激发学生的学习兴趣，使学生乐学。恰如</tspan><tspan x="2288" dy="14.2">其分的使用这种图文并茂的形式，有效地激发</tspan><tspan x="2288" dy="14.2">学生的学习兴趣，使学生产生强烈的学习欲望</tspan><tspan x="2288" dy="14.2">，乐学、爱学。</tspan></text></g>
<g id="b4-h7"><rect class="box" x="2282" y="2538" width="231" height="95" rx="5"/><text class="t" x="2288" y="2554.2"><tspan x="2288">7、在本备课组当中开展了一些活动，比如统</tspan><tspan x="2288" dy="14.2">一本组的教学进度，进行集体备课，进行一些</tspan><tspan x="2288" dy="14.2">主题的讨论，对重难点知识教学教法的讨论，</tspan><tspan x="2288" dy="14.2">完善作业设计，组织本备课组成员积极参加学</tspan><tspan x="2288" dy="14.2">校的各种活动，较好完成评卷和分析评价，组</tspan><tspan x="2288" dy="14.2">织完成学分认定等。</tspan></text></g>

<!-- Related -->
<g id="related"><rect class="pill" x="1556" y="2864" width="271" height="51" rx="25.5"/><text x="1583" y="2886" style="font-family:'Noto Sans CJK SC',sans-serif;font-size:15px;fill:#333"><tspan x="1583">2021年高一政治教学总结相关文章</tspan><tspan x="1583" dy="19">：</tspan></text></g>
<g id="rel-1"><rect class="box" x="1848" y="2658" width="170" height="25" rx="5"/><text class="t" x="1855" y="2674.7">★ 高一上学期政治教学总结2021</text></g>
<g id="rel-2"><rect class="box" x="1848" y="2707" width="181" height="24" rx="5"/><text class="t" x="1855" y="2723.2">★ 高一期末政治教学工作总结2021</text></g>
<g id="rel-3"><rect class="box" x="1848" y="2755" width="210" height="25" rx="5"/><text class="t" x="1855" y="2771.7">★ 2021高中政治学科教学总结及反思5篇</text></g>
<g id="rel-4"><rect class="box" x="1848" y="2804" width="199" height="25" rx="5"/><text class="t" x="1855" y="2820.7">★ 2021政治时事教学工作总结感悟5篇</text></g>
<g id="rel-5"><rect class="box" x="1848" y="2853" width="211" height="25" rx="5"/><text class="t" x="1855" y="2869.7">★ 高一学期政治教学工作总结怎样写2021</text></g>
<g id="rel-6"><rect class="box" x="1848" y="2902" width="203" height="24" rx="5"/><text class="t" x="1855" y="2918.2">★ 关于高中政治高一教学总结例子2021</text></g>
<g id="rel-7"><rect class="box" x="1848" y="2951" width="203" height="24" rx="5"/><text class="t" x="1855" y="2967.2">★ 高中政治教师教学工作年度总结2021</text></g>
<g id="rel-8"><rect class="box" x="1848" y="2999" width="181" height="25" rx="5"/><text class="t" x="1855" y="3015.7">★ 2021政治教师工作岗位期末总结</text></g>
<g id="rel-9"><rect class="box" x="1848" y="3048" width="181" height="25" rx="5"/><text class="t" x="1855" y="3064.7">★ 2021学校政治教育工作个人总结</text></g>
<g id="rel-10"><rect class="box" x="1848" y="3097" width="189" height="25" rx="5"/><text class="t" x="1855" y="3113.7">★ 关于高中政治学科教学总结及感悟</text></g>
</svg>
